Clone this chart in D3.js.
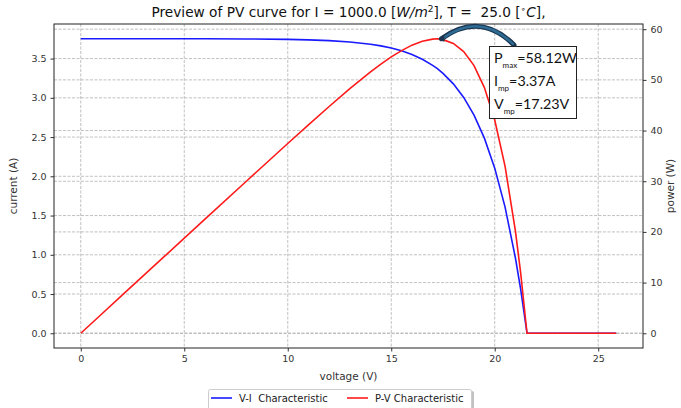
<!DOCTYPE html>
<html><head><meta charset="utf-8">
<script src="https://cdn.jsdelivr.net/npm/d3@7"></script>
<style>body{margin:0;background:#fff}svg{display:block}text{white-space:pre}</style>
</head><body>
<svg id="c" width="681" height="408" font-family="DejaVu Sans, sans-serif"></svg>
<script>
// Data
const voltage = [0,1,2,4,6,8,10,11,12,13,14,14.5,15,15.5,16,16.5,17,17.23,17.5,18,18.5,19,19.5,20,20.5,21,21.25,21.56,22,23,24,25,25.87];
const current = [3.753,3.753,3.753,3.753,3.752,3.750,3.745,3.739,3.729,3.712,3.683,3.662,3.635,3.599,3.553,3.492,3.414,3.373,3.311,3.178,3.005,2.780,2.486,2.104,1.607,0.959,0.566,0,0,0,0,0,0];
const power   = [0,3.75,7.51,15.01,22.51,30.00,37.45,41.13,44.75,48.26,51.56,53.10,54.53,55.78,56.85,57.62,58.04,58.12,57.94,57.20,55.59,52.82,48.48,42.08,32.94,20.14,12.03,0,0,0,0,0,0];
const xTicks = [0,5,10,15,20,25];
const yLeftTicks = [0,0.5,1,1.5,2,2.5,3,3.5];
const yRightTicks = [0,10,20,30,40,50,60];
const annotation = [["P","max","=58.12W"],["I","mp","=3.37A"],["V","mp","=17.23V"]];
const peakV = 17.23, peakP = 58.12;

const svg = d3.select("#c");
const L=54,R=643,T=24,B=348;
const pad = (lo,hi)=>{const s=hi-lo;return [lo-0.05*s,hi+0.05*s];};
const x = d3.scaleLinear().domain(pad(d3.min(voltage),d3.max(voltage))).range([L,R]);
const yL = d3.scaleLinear().domain(pad(0,d3.max(current))).range([B,T]);
const yR = d3.scaleLinear().domain(pad(0,d3.max(power))).range([B,T]);

const grid = svg.append("g").attr("stroke","#b0b0b0").attr("stroke-width",0.8).attr("stroke-dasharray","3,1.5");
xTicks.forEach(v=>grid.append("line").attr("x1",x(v)).attr("x2",x(v)).attr("y1",T).attr("y2",B));
yLeftTicks.forEach(v=>grid.append("line").attr("x1",L).attr("x2",R).attr("y1",yL(v)).attr("y2",yL(v)));
yRightTicks.forEach(v=>grid.append("line").attr("x1",L).attr("x2",R).attr("y1",yR(v)).attr("y2",yR(v)));

const line = (ys,sc)=>d3.line().x((d,i)=>x(voltage[i])).y((d,i)=>sc(ys[i]));
svg.append("path").datum(voltage).attr("d",line(current,yL)).attr("fill","none").attr("stroke","#1a1aff").attr("stroke-width",1.6);
svg.append("path").datum(voltage).attr("d",line(power,yR)).attr("fill","none").attr("stroke","#ff1a1a").attr("stroke-width",1.6);

// axes
const fmt1 = d3.format(".1f");
const gx = svg.append("g").attr("transform",`translate(0,${B})`).call(d3.axisBottom(x).tickValues(xTicks).tickFormat(d3.format("d")).tickSize(3.5).tickPadding(4));
const gl = svg.append("g").attr("transform",`translate(${L},0)`).call(d3.axisLeft(yL).tickValues(yLeftTicks).tickFormat(fmt1).tickSize(3.5).tickPadding(4));
const gr = svg.append("g").attr("transform",`translate(${R},0)`).call(d3.axisRight(yR).tickValues(yRightTicks).tickFormat(d3.format("d")).tickSize(3.5).tickPadding(4));
[gx,gl,gr].forEach(g=>{g.select(".domain").remove();g.attr("font-family","DejaVu Sans, sans-serif").attr("font-size",9.5);g.selectAll("text").attr("fill","#333");g.selectAll("line").attr("stroke","#333");});
svg.append("rect").attr("x",L).attr("y",T).attr("width",R-L).attr("height",B-T).attr("fill","none").attr("stroke","#222").attr("stroke-width",1);

// labels
svg.append("text").attr("x",(L+R)/2).attr("y",380).attr("text-anchor","middle").attr("font-size",10.5).attr("fill","#333").text("voltage (V)");
svg.append("text").attr("transform",`translate(17,${(T+B)/2}) rotate(-90)`).attr("text-anchor","middle").attr("font-size",10.5).attr("fill","#333").text("current (A)");
svg.append("text").attr("transform",`translate(674,${(T+B)/2}) rotate(-90)`).attr("text-anchor","middle").attr("font-size",10.5).attr("fill","#333").text("power (W)");

// title
const t = svg.append("text").attr("x",(L+R)/2).attr("y",17).attr("text-anchor","middle").attr("font-size",13.7).attr("fill","#111");
t.append("tspan").text("Preview of PV curve for I = 1000.0 [");
t.append("tspan").attr("font-style","italic").text("W/m");
t.append("tspan").attr("font-size",9).attr("dy",-5).text("2");
t.append("tspan").attr("dy",5).text("], T =  25.0 [");
t.append("tspan").attr("font-size",9).attr("dy",-5).text("∘");
t.append("tspan").attr("dy",5).attr("font-style","italic").text("C");
t.append("tspan").text("],");

// annotation arrow
const px = x(peakV), py = yR(peakP);
svg.append("path").attr("d",`M514,45 Q480,11 ${px+4},${py}`).attr("fill","none").attr("stroke","#1b3550").attr("stroke-width",5).attr("stroke-linecap","round");
svg.append("path").attr("d",`M513,44 Q480,12 ${px+6},${py-0.8}`).attr("fill","none").attr("stroke","#2e6c94").attr("stroke-width",2.4).attr("stroke-linecap","round");
svg.append("path").attr("d",`M${px+1},${py+1} L${px+7},${py-4} L${px+7},${py+3} Z`).attr("fill","#1b3550");

// annotation box
svg.append("rect").attr("x",489.5).attr("y",46.5).attr("width",87).attr("height",72).attr("fill","#fff").attr("stroke","#222").attr("stroke-width",1);
annotation.forEach((a,i)=>{
  const tx = svg.append("text").attr("x",494).attr("y",63+i*23).attr("font-family","Lato, 'Open Sans', sans-serif").attr("font-size",14.3).attr("fill","#111");
  tx.append("tspan").text(a[0]);
  tx.append("tspan").attr("font-size",8).attr("dy",4.5).text(a[1]);
  tx.append("tspan").attr("dy",-4.5).text(a[2]);
});

// legend
const lg = svg.append("g");
lg.append("rect").attr("x",210).attr("y",391).attr("width",264).attr("height",22).attr("rx",2).attr("fill","#999").attr("opacity",0.6);
lg.append("rect").attr("x",208.5).attr("y",389.5).attr("width",263).attr("height",22).attr("rx",2).attr("fill","#fff").attr("stroke","#ccc");
[["V-I  Characteristic","#1a1aff",211],["P-V Characteristic","#ff1a1a",347]].forEach(e=>{
  lg.append("line").attr("x1",e[2]).attr("x2",e[2]+21).attr("y1",398).attr("y2",398).attr("stroke",e[1]).attr("stroke-width",1.6);
  lg.append("text").attr("x",e[2]+28).attr("y",401.5).attr("font-size",10).attr("fill","#222").text(e[0]);
});
</script>
</body></html>
